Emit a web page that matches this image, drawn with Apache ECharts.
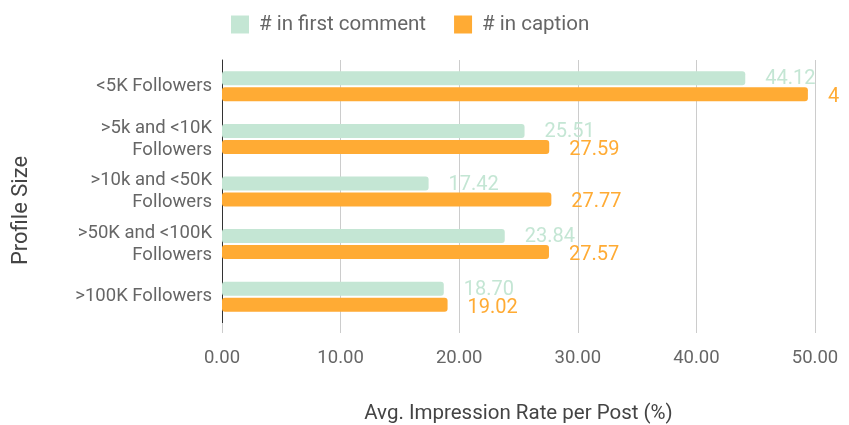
<!DOCTYPE html>
<html>
<head>
<meta charset="utf-8">
<script src="https://cdn.jsdelivr.net/npm/echarts@6/dist/echarts.min.js"></script>
<style>
  html, body { margin: 0; padding: 0; background: #fff; }
  #chart { width: 849px; height: 425px; }
</style>
</head>
<body>
<div id="chart"></div>
<script>
var categories = [
  '<5K Followers',
  '>5k and <10K\nFollowers',
  '>10k and <50K\nFollowers',
  '>50K and <100K\nFollowers',
  '>100K Followers'
];
var firstComment = [44.12, 25.51, 17.42, 23.84, 18.70];
var inCaption = [49.40, 27.59, 27.77, 27.57, 19.02];

var myChart = echarts.init(document.getElementById('chart'));

var font = 'Roboto';

// the top caption label runs off the right edge in the original, so clip it
var captionData = inCaption.map(function (v, i) {
  if (i === 0) {
    return { value: v, label: { width: 15, overflow: 'truncate', ellipsis: '' } };
  }
  return v;
});

var option = {
  textStyle: { fontFamily: font },
  legend: {
    top: 9,
    left: 226,
    itemWidth: 18,
    itemHeight: 18,
    itemGap: 28,
    icon: 'rect',
    textStyle: { fontSize: 20.5, color: '#666', fontFamily: font, padding: [0, 0, 0, 5] },
    data: ['# in first comment', '# in caption']
  },
  grid: { left: 222, right: 34, top: 60, bottom: 102, outerBoundsMode: 'none', containLabel: false },
  xAxis: {
    type: 'value',
    min: 0,
    max: 50,
    interval: 10,
    name: 'Avg. Impression Rate per Post (%)',
    nameLocation: 'middle',
    nameGap: 80,
    nameTextStyle: { fontSize: 20.5, color: '#444', fontFamily: font },
    axisLine: { show: false },
    axisTick: { show: true, length: 10, lineStyle: { color: '#ccc' } },
    axisLabel: {
      fontSize: 18.5, color: '#666', margin: 26,
      formatter: function (v) { return v.toFixed(2); }
    },
    splitLine: { lineStyle: { color: '#ccc', width: 1 } }
  },
  yAxis: {
    type: 'category',
    inverse: true,
    data: categories,
    name: 'Profile Size',
    nameLocation: 'middle',
    nameGap: 190,
    nameTextStyle: { fontSize: 22, color: '#444', fontFamily: font, padding: [0, 38, 0, 0] },
    axisLine: { show: true, lineStyle: { color: '#333', width: 1 } },
    axisTick: { show: false },
    axisLabel: { fontSize: 18.5, color: '#666', margin: 10, lineHeight: 22, align: 'right', padding: [4, 0, 0, 0] }
  },
  series: [
    {
      name: '# in first comment',
      type: 'bar',
      data: firstComment,
      barWidth: 14,
      barGap: '14%',
      itemStyle: { color: '#c4e6d4', borderRadius: 3 },
      label: {
        show: true,
        position: 'right',
        distance: 20,
        offset: [0, 1],
        fontSize: 20,
        color: '#c4e6d4',
        formatter: function (p) { return p.value.toFixed(2); }
      }
    },
    {
      name: '# in caption',
      type: 'bar',
      data: captionData,
      barWidth: 14,
      itemStyle: { color: '#ffab34', borderRadius: 3 },
      label: {
        show: true,
        position: 'right',
        distance: 20,
        offset: [0, 3],
        fontSize: 20,
        color: '#ffab34',
        formatter: function (p) { return p.value.toFixed(2); }
      }
    }
  ]
};

myChart.setOption(option);
</script>
</body>
</html>
